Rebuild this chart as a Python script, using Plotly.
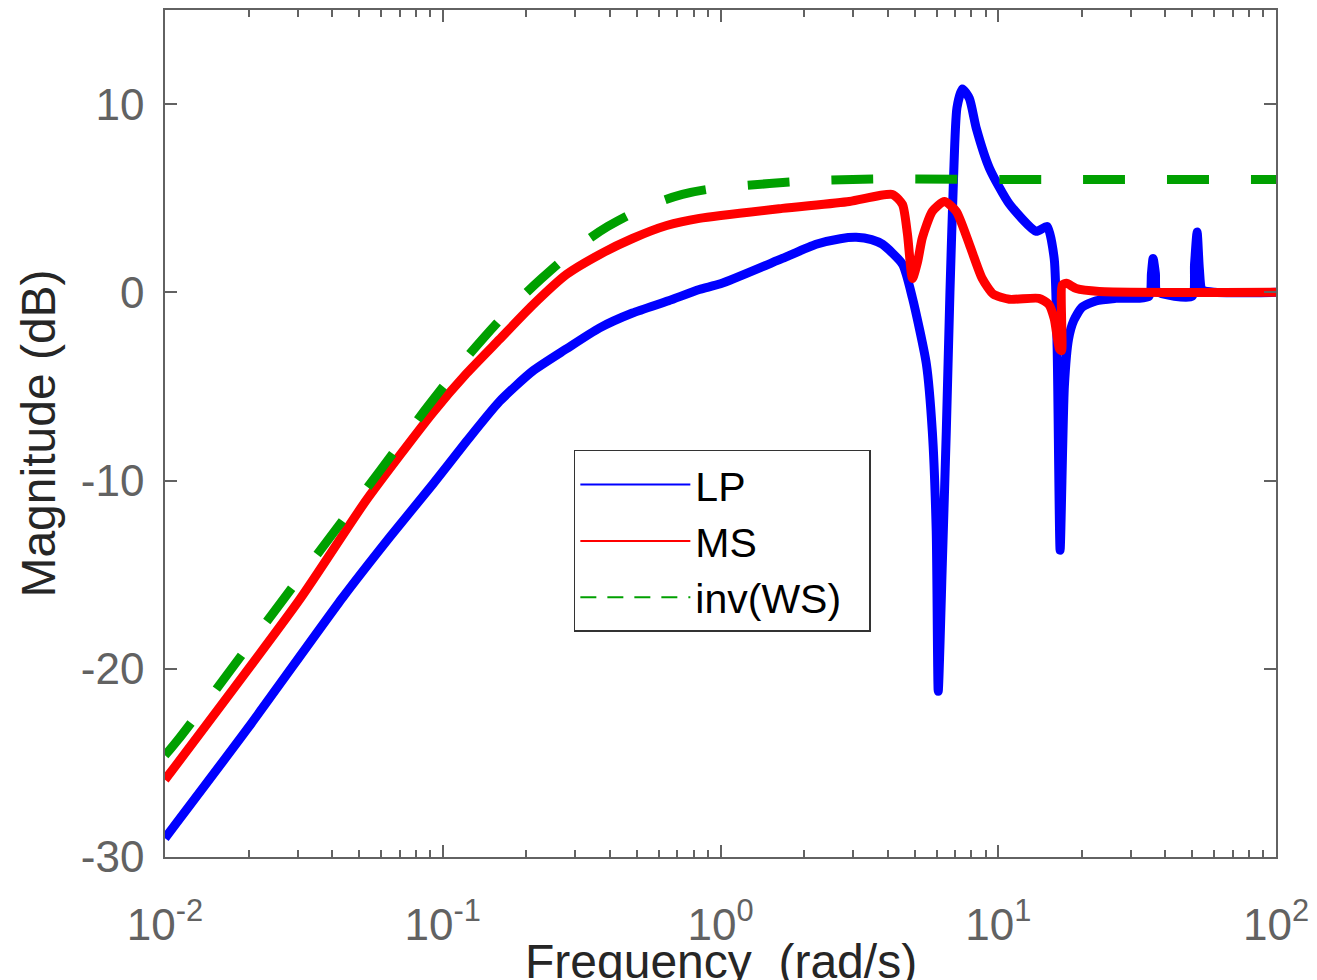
import plotly.graph_objects as go

# ---------------- data ----------------
lp_freq = [0.01, 0.02, 0.0437, 0.0645, 0.092, 0.122, 0.160, 0.210, 0.279, 0.366, 0.482,
           0.65, 0.839, 1.0, 1.67, 2.21, 2.7, 3.08, 3.5, 3.83, 4.52, 4.91, 5.51, 5.79, 5.98,
           6.08, 6.29, 6.50, 6.70, 6.90, 7.10, 7.43, 7.87, 8.34, 9.29, 10.96, 13.7, 15.0,
           15.9, 16.3, 16.7, 17.3, 17.9, 18.7, 20.0, 22.5, 26.5, 34.9, 35.6, 36.1, 36.8,
           37.3, 49.9, 50.9, 52.0, 53.0, 54.2, 60.0, 100.0]
lp_db = [-29.0, -23.1, -16.2, -13.0, -10.2, -7.9, -5.8, -4.2, -3.0, -1.9, -1.1,
         -0.45, 0.15, 0.45, 1.8, 2.55, 2.85, 2.92, 2.8, 2.55, 1.49, -0.3, -3.8, -7.4, -12.7,
         -21.2, -14.4, -7.4, 0.0, 6.0, 9.8, 10.8, 10.3, 8.7, 6.6, 4.7, 3.24, 3.5,
         1.8, -3.1, -13.7, -5.0, -2.5, -1.5, -0.8, -0.45, -0.32, -0.21, 1.0, 1.8, 1.0,
         0.05, -0.21, 1.5, 3.2, 1.2, 0.15, 0.0, 0.0]

ms_freq = [0.01, 0.0306, 0.0533, 0.092, 0.122, 0.160, 0.210, 0.279, 0.366, 0.482,
           0.64, 0.839, 1.67, 2.91, 4.16, 4.52, 4.71, 4.91, 5.12, 5.33, 5.79, 6.40, 7.06,
           7.87, 8.75, 9.6, 10.96, 14.0, 15.2, 15.9, 16.6, 16.9, 17.0, 17.6, 19.1, 23.1, 100.0]
ms_db = [-25.9, -16.3, -11.0, -6.4, -4.3, -2.5, -0.7, 0.95, 2.0, 2.86,
         3.55, 3.93, 4.46, 4.83, 5.2, 4.67, 3.1, 0.74, 1.6, 2.9, 4.3, 4.83, 4.3,
         2.55, 0.74, -0.1, -0.37, -0.32, -0.64, -1.4, -3.0, -3.1, 0.4, 0.48, 0.2, 0.05, 0.0]

ws_freq = [0.01, 0.0111, 0.0249, 0.0593, 0.0897, 0.139, 0.227, 0.393, 0.729, 1.50, 2.99, 10.0, 100.0]
ws_db = [-24.6, -23.8, -16.9, -9.5, -5.94, -2.49, 0.74, 3.5, 5.2, 5.78, 6.0, 6.0, 6.0]

series_names = ["LP\u00a0\u00a0", "MS", "inv(WS)\u00a0\u00a0"]
y_ticks = [-30, -20, -10, 0, 10]
y_tick_text = ["-30", "-20", "-10", "0", "10"]
x_ticks = [0.01, 0.1, 1, 10, 100]
x_tick_text = ["10<sup>-2</sup>", "10<sup>-1</sup>", "10<sup>0</sup>", "10<sup>1</sup>", "10<sup>2</sup>"]

BLUE = "#0000ff"
RED = "#ff0000"
GREEN = "#00a000"
AXC = "#626262"
FONT = "Liberation Sans, Arial, sans-serif"

fig = go.Figure()
fig.add_trace(go.Scatter(x=lp_freq, y=lp_db, mode="lines", showlegend=False,
                         line=dict(color=BLUE, width=9, shape="spline", smoothing=0.6)))
fig.add_trace(go.Scatter(x=ms_freq, y=ms_db, mode="lines", showlegend=False,
                         line=dict(color=RED, width=9, shape="spline", smoothing=0.6)))
fig.add_trace(go.Scatter(x=ws_freq, y=ws_db, mode="lines", showlegend=False,
                         line=dict(color=GREEN, width=9, dash="42px,42px", shape="spline")))

# legend entries (thin lines as in the reference legend)
for name, col, dash in zip(series_names, [BLUE, RED, GREEN], ["solid", "solid", "16px,11px"]):
    fig.add_trace(go.Scatter(x=[None], y=[None], mode="lines", name=name,
                             line=dict(color=col, width=2, dash=dash)))

fig.update_layout(
    width=1317, height=980,
    margin=dict(l=165, r=40, t=8, b=123),
    paper_bgcolor="white", plot_bgcolor="white",
    font=dict(family=FONT, color=AXC),
    legend=dict(x=0.368, y=0.4806, xanchor="left", yanchor="top",
                bgcolor="white", bordercolor="#333333", borderwidth=1.5,
                font=dict(size=41, color="black", family=FONT),
                itemwidth=110, tracegroupgap=0),
    annotations=[dict(text="Frequency\u00a0 (rad/s)", xref="paper", yref="paper",
                      x=0.5, y=-0.1237, xanchor="center", yanchor="middle",
                      showarrow=False, font=dict(size=48, color="#262626", family=FONT))],
)

fig.update_xaxes(
    type="log", range=[-2, 2],
    tickvals=x_ticks, ticktext=x_tick_text,
    tickfont=dict(size=44, color=AXC), ticklabelstandoff=28,
    ticks="inside", ticklen=12, tickwidth=1.5, tickcolor=AXC,
    minor=dict(ticks="inside", ticklen=7, tickwidth=1.5, tickcolor=AXC, dtick="D1", showgrid=False),
    showline=True, linecolor=AXC, linewidth=1.5, mirror="ticks",
    showgrid=False, zeroline=False,
)
fig.update_yaxes(
    range=[-30, 15],
    tickvals=y_ticks, ticktext=y_tick_text,
    tickfont=dict(size=44, color=AXC), ticklabelstandoff=10,
    ticks="inside", ticklen=12, tickwidth=1.5, tickcolor=AXC,
    showline=True, linecolor=AXC, linewidth=1.5, mirror="ticks",
    showgrid=False, zeroline=False,
    title=dict(text="Magnitude (dB)", font=dict(size=48, color="#262626"), standoff=10),
)

fig.write_html("out.html")
